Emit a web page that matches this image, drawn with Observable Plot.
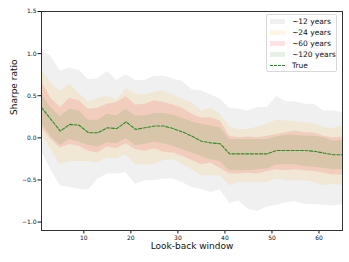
<!DOCTYPE html>
<html><head><meta charset="utf-8">
<script src="https://cdn.jsdelivr.net/npm/d3@7"></script>
<script src="https://cdn.jsdelivr.net/npm/@observablehq/plot@0.6"></script>
<style>
body{margin:0;background:#fff;font-family:"DejaVu Sans",sans-serif}
#wrap{position:relative;width:349px;height:262px}
#legend{position:absolute;left:266px;top:14px;width:71px;height:58px;border:1px solid #d8d8d8;border-radius:2px;background:rgba(255,255,255,0.8);box-sizing:border-box;font-size:7.5px;color:#111}
.row{position:absolute;left:3px;height:10px;display:flex;align-items:center;white-space:nowrap}
.sw{width:15px;height:5px;margin-right:7px;flex:none}
.ln{width:15px;height:0;border-top:1.1px dashed #2e8b2e;margin-right:7px;flex:none}
</style>
</head><body><div id="wrap"></div><script>
const windows = [1,3,5,7,9,11,13,15,17,19,21,23,25,27,29,31,33,35,37,39,41,43,45,47,49,51,53,55,57,59,61,63,65];
const trueSharpe = [0.36,0.22,0.08,0.16,0.15,0.06,0.06,0.12,0.11,0.19,0.10,0.12,0.14,0.14,0.11,0.07,0.02,-0.04,-0.06,-0.07,-0.19,-0.19,-0.19,-0.19,-0.19,-0.15,-0.15,-0.15,-0.15,-0.16,-0.18,-0.20,-0.20];
const hi12 = [1.03,0.97,0.79,0.83,0.80,0.69,0.70,0.79,0.68,0.75,0.68,0.68,0.73,0.73,0.70,0.67,0.57,0.56,0.51,0.46,0.35,0.34,0.32,0.36,0.36,0.49,0.43,0.43,0.40,0.40,0.32,0.32,0.30];
const lo12 = [-0.16,-0.38,-0.57,-0.59,-0.61,-0.62,-0.49,-0.43,-0.43,-0.41,-0.55,-0.51,-0.51,-0.49,-0.49,-0.53,-0.59,-0.61,-0.65,-0.62,-0.78,-0.75,-0.85,-0.87,-0.82,-0.80,-0.77,-0.76,-0.79,-0.79,-0.80,-0.81,-0.79];
const hi24 = [0.81,0.65,0.55,0.64,0.53,0.42,0.47,0.49,0.45,0.58,0.52,0.51,0.54,0.56,0.51,0.46,0.42,0.32,0.35,0.28,0.13,0.10,0.10,0.13,0.16,0.21,0.20,0.19,0.18,0.17,0.12,0.11,0.14];
const lo24 = [0.04,-0.14,-0.32,-0.28,-0.28,-0.28,-0.30,-0.24,-0.25,-0.20,-0.32,-0.32,-0.32,-0.27,-0.26,-0.32,-0.38,-0.45,-0.45,-0.45,-0.57,-0.53,-0.53,-0.53,-0.53,-0.49,-0.51,-0.51,-0.51,-0.53,-0.57,-0.55,-0.57];
const hi60 = [0.67,0.47,0.36,0.47,0.44,0.34,0.35,0.40,0.42,0.49,0.39,0.40,0.44,0.42,0.39,0.35,0.28,0.24,0.24,0.20,0.02,0.00,0.01,0.00,0.02,0.04,0.06,0.08,0.06,0.06,0.02,0.00,0.01];
const lo60 = [0.12,-0.02,-0.12,-0.08,-0.10,-0.16,-0.18,-0.11,-0.13,-0.07,-0.14,-0.16,-0.13,-0.17,-0.18,-0.22,-0.27,-0.32,-0.30,-0.36,-0.43,-0.43,-0.42,-0.43,-0.40,-0.38,-0.39,-0.38,-0.39,-0.40,-0.42,-0.44,-0.44];
const hi120 = [0.52,0.36,0.25,0.34,0.32,0.21,0.21,0.28,0.26,0.34,0.26,0.26,0.29,0.29,0.27,0.23,0.19,0.16,0.14,0.12,-0.02,-0.02,-0.02,-0.02,-0.02,0.01,0.03,0.03,0.02,0.02,0.00,-0.04,-0.03];
const lo120 = [0.17,0.02,-0.09,-0.02,-0.05,-0.09,-0.11,-0.06,-0.07,-0.01,-0.09,-0.08,-0.05,-0.07,-0.10,-0.14,-0.18,-0.22,-0.26,-0.28,-0.39,-0.39,-0.39,-0.38,-0.37,-0.32,-0.32,-0.32,-0.34,-0.35,-0.36,-0.38,-0.38];
const yTicks = [-1.0,-0.5,0.0,0.5,1.0,1.5];
const xTicks = [10,20,30,40,50,60];
const bandLabels = ["~12 years","~24 years","~60 years","~120 years"];
const bandColors = ["#808080","#ffa500","#ff0000","#008000"];
const bandOpacity = [0.12,0.11,0.11,0.1];
const lineLabel = "True";

const bands = [[lo12,hi12],[lo24,hi24],[lo60,hi60],[lo120,hi120]];
const idx = windows.map((_, i) => i);

const marks = [];
bands.forEach(([lo, hi], b) => {
  marks.push(Plot.areaY(idx, {x: i => windows[i], y1: i => lo[i], y2: i => hi[i], fill: bandColors[b], fillOpacity: bandOpacity[b], curve: "linear"}));
});
marks.push(Plot.line(idx, {x: i => windows[i], y: i => trueSharpe[i], stroke: "#2e8b2e", strokeWidth: 1.1, strokeDasharray: "3,1.6"}));
marks.push(Plot.axisY({ticks: yTicks, tickFormat: d3.format(".1f"), tickSize: 3.5, tickPadding: 1.5, label: null, fontSize: 6, fill: "#111"}));
marks.push(Plot.axisX({ticks: xTicks, tickSize: 3.5, tickPadding: 1.5, label: null, fontSize: 6, fill: "#111"}));
marks.push(Plot.frame({stroke: "#333", strokeWidth: 1}));
marks.push(Plot.text(["Look-back window"], {text: d => d, frameAnchor: "bottom", dy: 18, fontSize: 9, fill: "#111"}));
marks.push(Plot.text(["Sharpe ratio"], {text: d => d, frameAnchor: "left", rotate: -90, dx: -27, dy: -6, fontSize: 9, fill: "#111"}));

const chart = Plot.plot({
  width: 349, height: 262,
  marginLeft: 41, marginRight: 7, marginTop: 11, marginBottom: 32,
  x: {domain: [1, 65]},
  y: {domain: [-1.1, 1.5]},
  style: {fontFamily: "DejaVu Sans", fontSize: "6px", color: "#111", background: "#fff"},
  marks
});
const wrap = document.getElementById("wrap");
wrap.appendChild(chart);

const lg = document.createElement("div");
lg.id = "legend";
bandLabels.forEach((lab, b) => {
  const r = document.createElement("div");
  r.className = "row";
  r.style.top = (1 + b * 11) + "px";
  const sw = document.createElement("div");
  sw.className = "sw";
  const c = d3.color(bandColors[b]); c.opacity = bandOpacity[b];
  sw.style.background = c.formatRgb();
  r.appendChild(sw);
  const t = document.createElement("span"); t.textContent = lab; r.appendChild(t);
  lg.appendChild(r);
});
const r = document.createElement("div");
r.className = "row"; r.style.top = (1 + 4 * 11) + "px";
const ln = document.createElement("div"); ln.className = "ln"; r.appendChild(ln);
const t = document.createElement("span"); t.textContent = lineLabel; r.appendChild(t);
lg.appendChild(r);
wrap.appendChild(lg);
</script></body></html>
